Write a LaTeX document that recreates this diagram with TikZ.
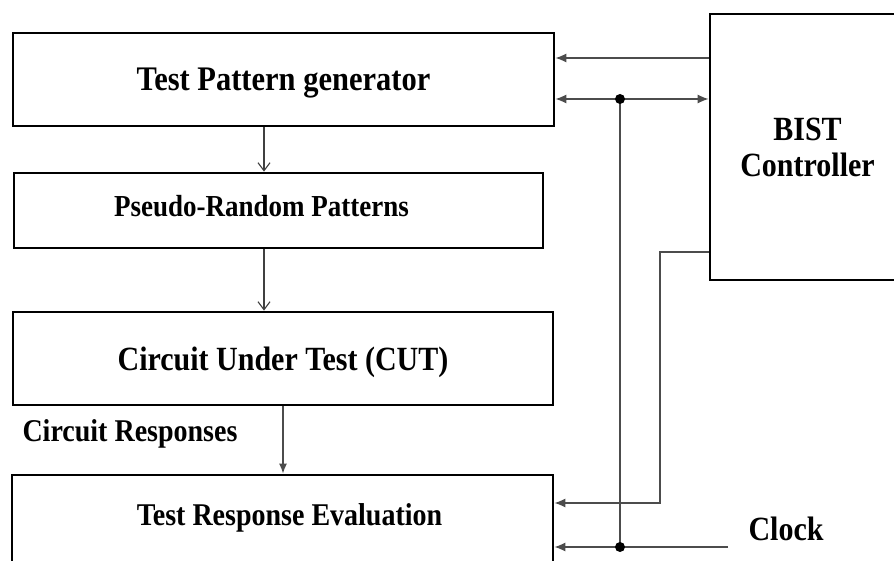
\documentclass[tikz,border=0pt]{standalone}
\usepackage{fontspec}
\setmainfont{Liberation Serif}
\usetikzlibrary{arrows.meta,calc}
\newcommand{\fs}[2]{\fontsize{#1}{#2}\selectfont}
\newcommand{\tall}[1]{\scalebox{1}[1.13]{#1}}
\tikzset{
    blk/.style={draw, line width=2.8pt, inner sep=0pt, font=\bfseries},
    flow/.style={draw=black!75, line width=1.1pt, -{Straight Barb[length=8pt,width=12pt]}},
    sig/.style={draw=black!70, line width=1.3pt, -{Latex[length=11pt,width=9pt]}},
    dot/.style={circle, fill=black, inner sep=0pt, minimum size=10pt}
}
\begin{document}
\begin{tikzpicture}[x=1pt,y=-1pt]
    \useasboundingbox (0,0) rectangle (894,561);
    \clip (0,0) rectangle (894,561);
    % blocks
    \node[blk, minimum width=541pt, minimum height=93pt, text depth=0pt, font=\bfseries\fs{30.5}{36}] (tpg) at (283.5,79.5) {\tall{Test Pattern generator}};
    \node[blk, minimum width=529pt, minimum height=75pt,
        label={[font=\bfseries\fs{27}{32}, xshift=-17pt, yshift=4pt]center:\tall{Pseudo-Random Patterns}}] (prp) at (278.5,210.5) {};
    \node[blk, minimum width=540pt, minimum height=93pt, text depth=0pt, font=\bfseries\fs{30}{36}] (cut) at (283,358.5) {\tall{Circuit Under Test (CUT)}};
    \node[blk, minimum width=541pt, minimum height=130pt,
        label={[font=\bfseries\fs{28}{34}, anchor=center, xshift=7pt, yshift=-44pt]north:\tall{Test Response Evaluation}}] (tre) at (282.5,540) {};
    \node[blk, minimum width=195pt, minimum height=266pt, align=center, font=\bfseries\fs{30}{36}] (ctl) at (807.5,147) {\tall{BIST}\\\tall{Controller}};
    \node[anchor=base west, font=\bfseries\fs{28}{34}] (resp) at (19,441) {\tall{Circuit Responses}};
    \node[anchor=base west, font=\bfseries\fs{30}{36}] (clock) at (745,540) {\tall{Clock}};

    \coordinate (a1) at (264,0);
    \coordinate (a2) at (283,0);
    \coordinate (s1) at (0,58);
    \coordinate (j1) at (620,99);
    \coordinate (j2) at (620,547);
    \coordinate (ck) at (728,547);
    \coordinate (f1) at (660,252);
    \coordinate (f2) at (660,503);

    % data path
    \draw[flow] (tpg.south -| a1) -- (prp.north -| a1);
    \draw[flow] (prp.south -| a1) -- (cut.north -| a1);
    \draw[sig, -{Latex[length=10pt,width=8pt]}] (cut.south -| a2) -- (tre.north -| a2);

    % control lines
    \draw[sig] (ctl.west |- s1) -- (tpg.east |- s1);
    \draw[sig, {Latex[length=11pt,width=9pt]}-{Latex[length=11pt,width=9pt]}] (tpg.east |- j1) -- (ctl.west |- j1);
    \draw[sig, -] (j1) -- (j2);
    \draw[sig] (ctl.west |- f1) -- (f1) -- (f2) -- (tre.east |- f2);
    \draw[sig] (ck) -- (tre.east |- ck);
    \node[dot] (d1) at (j1) {};
    \node[dot] (d2) at (j2) {};
\end{tikzpicture}
\end{document}
